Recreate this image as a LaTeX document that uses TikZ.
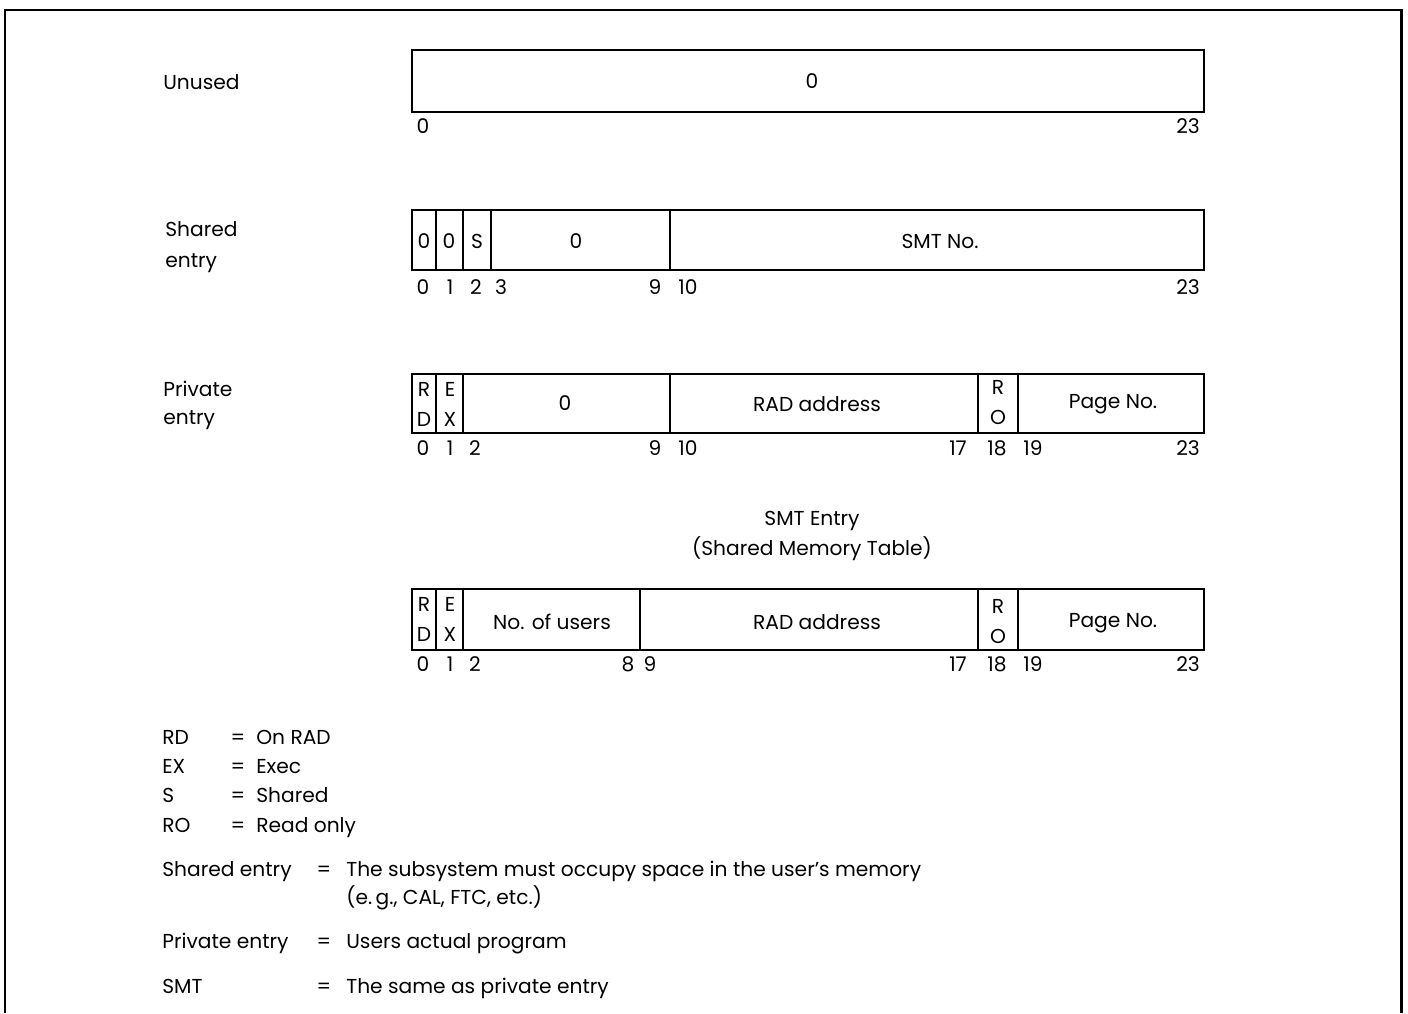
\documentclass[tikz,border=0pt]{standalone}
\usepackage{fontspec}
\setmainfont{Poppins}
\newcommand{\fsz}{\fontsize{11.5}{14}\selectfont}
\tikzset{
  Frame/.style  = {draw, line width=1.7pt},
  Word/.style   = {draw, line width=1.4pt},
  Div/.style    = {draw, line width=0.6pt},
  Fld/.style    = {font=\fsz, inner sep=0pt},
  Bit/.style    = {font=\fsz, inner sep=0pt},
  SideLab/.style= {font=\fsz, anchor=west, align=left, inner sep=0pt},
  Leg/.style    = {font=\fsz, anchor=base west, inner sep=0pt},
  Eq/.style     = {font=\fsz, anchor=base, inner sep=0pt},
}

\begin{document}
\begin{tikzpicture}[x=0.02cm, y=-0.02cm]
\useasboundingbox (0,0) rectangle (1408,1013);
\draw[Frame] (5,1013) -- (5,10) -- (1401,10) -- (1401,1013);

% ======================= UNUSED ==========================================
\node[SideLab] (lunused) at (163,82) {Unused};
\draw[Word] (412,50) rectangle (1204,112);
\node[Fld] (u0) at (812,81) {0};
\foreach \x/\t [count=\i] in {423/0, 1188/23}
    \node[Bit] (ub\i) at (\x,126) {\t};

% ======================= SHARED ENTRY ====================================
\node[SideLab] (lshared) at (165,247) {Shared\\[4pt]entry};
\draw[Word] (412,210) rectangle (1204,270);
\foreach \x in {436, 463, 491, 670}
    \draw[Div] (\x,210) -- (\x,270);
\foreach \x/\t [count=\i] in {424/0, 449/0, 477/S, 576/0, 940/SMT No.}
    \node[Fld] (sf\i) at (\x,241) {\t};
\foreach \x/\t [count=\i] in {423/0, 450/1, 476/2, 501/3, 655/9, 688/10, 1188/23}
    \node[Bit] (sb\i) at (\x,287) {\t};

% ======================= PRIVATE ENTRY ===================================
\node[SideLab] (lprivate) at (163,405) {Private\\[2pt]entry};
\draw[Word] (412,374) rectangle (1204,433);
\foreach \x in {436, 463, 670, 978, 1018}
    \draw[Div] (\x,374) -- (\x,433);
\foreach \x/\y/\t [count=\i] in {424/389/R, 424/419/D, 450/389/E, 450/419/X,
                                 565/403/0, 817/404/RAD address,
                                 998/387/R, 998/417/O, 1113/404/Page No.}
    \node[Fld] (pf\i) at (\x,\y) {\t};
\foreach \x/\t [count=\i] in {423/0, 450/1, 475/2, 655/9, 688/10,
                              958/17, 997/18, 1033/19, 1188/23}
    \node[Bit] (pb\i) at (\x,448) {\t};

% ======================= SMT ENTRY =======================================
\node[Fld] (smttitle) at (812,521) {SMT Entry};
\node[Fld] (smtsub) at (812,549) {(Shared Memory Table)};
\draw[Word] (412,589) rectangle (1204,650);
\foreach \x in {436, 463, 640, 978, 1018}
    \draw[Div] (\x,589) -- (\x,650);
\foreach \x/\y/\t [count=\i] in {424/604/R, 424/634/D, 450/604/E, 450/634/X,
                                 552/622/No. of users, 817/622/RAD address,
                                 998/606/R, 998/636/O, 1113/623/Page No.}
    \node[Fld] (mf\i) at (\x,\y) {\t};
\foreach \x/\t [count=\i] in {423/0, 450/1, 475/2, 628/8, 650/9,
                              958/17, 997/18, 1033/19, 1188/23}
    \node[Bit] (mb\i) at (\x,664) {\t};

% ======================= LEGEND ==========================================
\foreach \y/\k/\v [count=\i] in {744/RD/On RAD, 773/EX/Exec, 802/S/Shared, 832/RO/Read only} {
    \node[Leg] (lk\i) at (162,\y) {\k};
    \node[Eq]  (le\i) at (238,\y) {=};
    \node[Leg] (lv\i) at (256,\y) {\v};
}
\foreach \y/\k/\v [count=\i] in {876/Shared entry/The subsystem must occupy space in the user's memory,
                                 948/Private entry/Users actual program,
                                 993/SMT/The same as private entry} {
    \node[Leg] (dk\i) at (162,\y) {\k};
    \node[Eq]  (de\i) at (324,\y) {=};
    \node[Leg] (dv\i) at (346,\y) {\v};
}
\node[Leg] (dv1b) at (346,904) {(e.\,g., CAL, FTC, etc.)};

\end{tikzpicture}
\end{document}
